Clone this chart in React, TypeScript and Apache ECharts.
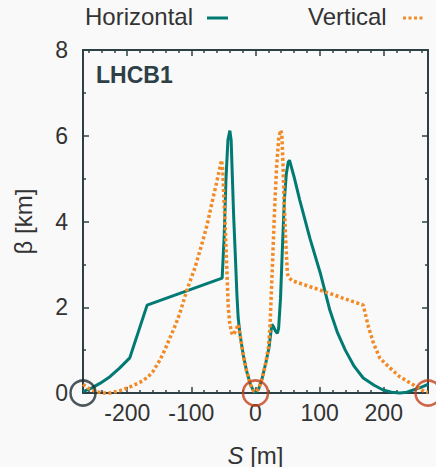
import React, { useEffect, useRef } from "react";
import * as echarts from "echarts";

// Horizontal beta function (solid teal)
const horizontalS = [
  -269, -255, -242, -227, -212, -196, -169, -52, -49, -46, -43, -40, -38, -36, -34, -32, -29, -27, -24, -19, -14, -8, -3, 0,
  5, 10, 16, 21, 23, 25.5, 28, 31, 34, 36, 39, 42, 45, 48, 51, 53, 60, 69, 85, 101, 116, 128, 140, 154, 168, 185, 199, 212, 225, 236, 246, 258, 269,
];
const horizontalBeta = [
  0.03, 0.12, 0.23, 0.38, 0.58, 0.82, 2.05, 2.68, 3.6, 5.0, 5.9, 6.12, 5.9, 5.0, 4.1, 3.4, 2.3, 1.75, 1.35, 0.88, 0.52, 0.2, 0.05, 0.02,
  0.1, 0.32, 0.7, 1.05, 1.3, 1.6, 1.55, 1.45, 1.39, 1.5, 2.2, 3.4, 4.5, 5.1, 5.38, 5.43, 5.05, 4.5, 3.6, 2.8, 1.93, 1.4, 1.0, 0.62, 0.35, 0.18, 0.07, 0.02, 0.0, 0.02, 0.07, 0.13, 0.2,
];

// Vertical beta function (dotted orange)
const verticalS = [
  -269, -260, -248, -237, -227, -212, -196, -180, -168, -160, -149, -141, -133, -125, -118, -107, -94, -82, -75, -68, -60, -53,
  -51, -49.5, -47.5, -45, -42.5, -40, -37, -34.6, -31, -27, -24, -19, -14, -8, -3, 0,
  5, 10, 16, 20, 22.6, 25, 28, 30.4, 33, 36, 39, 41, 43, 44.5, 47, 49.7, 51, 57, 69, 101, 135, 168, 176, 184, 194, 210, 225, 246, 264, 269,
];
const verticalBeta = [
  0.2, 0.1, 0.03, 0.0, 0.0, 0.05, 0.14, 0.25, 0.37, 0.5, 0.77, 1.02, 1.3, 1.58, 1.86, 2.4, 2.94, 3.56, 3.95, 4.43, 4.95, 5.43,
  5.2, 4.6, 4.0, 3.0, 2.0, 1.6, 1.4, 1.35, 1.45, 1.6, 1.35, 0.88, 0.52, 0.2, 0.05, 0.02,
  0.1, 0.32, 0.7, 1.05, 1.55, 2.45, 3.6, 4.5, 5.3, 5.9, 6.13, 6.05, 5.3, 4.5, 3.6, 2.8, 2.71, 2.62, 2.56, 2.4, 2.22, 2.05, 1.55, 1.16, 0.81, 0.58, 0.38, 0.19, 0.03, 0.02,
];

// Marker circles on the S axis
const markerS = [-269, 0, 269];
const markerBeta = [0, 0, 0];
const markerColors = ["#1f2d33", "#c4411c", "#c4411c"];

// Axis ticks
const xMajorTicks = [-200, -100, 0, 100, 200];
const xMinorTicks = [-260, -240, -220, -180, -160, -140, -120, -80, -60, -40, -20, 20, 40, 60, 80, 120, 140, 160, 180, 220, 240, 260];
const yMajorTicks = [0, 2, 4, 6, 8];
const yMinorTicks = [1, 3, 5, 7];

const seriesNames = ["Horizontal", "Vertical"];
const panelLabel = "LHCB1";

export default function App() {
  const ref = useRef<HTMLDivElement>(null);

  useEffect(() => {
    if (!ref.current) return;
    const chart = echarts.init(ref.current, null, { renderer: "svg" });
    const axisColor = "#2d4046";
    const textColor = "#333333";
    const font = "'Liberation Sans', Arial, Helvetica, sans-serif";
    const teal = "#007a73";
    const orange = "#f28a26";

    const xBase = { type: "value", min: -269, max: 269, gridIndex: 0, splitLine: { show: false } };
    const yBase = { type: "value", min: 0, max: 8, gridIndex: 0, splitLine: { show: false } };

    const tickStyle = { color: axisColor, width: 1.5 };

    const xAxes = [
      {
        ...xBase,
        position: "bottom",
        axisLine: { show: true, onZero: false, lineStyle: { color: axisColor, width: 2 } },
        axisTick: { show: true, inside: true, length: 6, customValues: xMajorTicks, lineStyle: tickStyle },
        axisLabel: { show: true, customValues: xMajorTicks, fontSize: 23, color: textColor, fontFamily: font, margin: 8 },
        name: "{i|S} [m]",
        nameLocation: "middle",
        nameGap: 50,
        nameTextStyle: {
          fontSize: 24,
          color: textColor,
          fontFamily: font,
          rich: { i: { fontStyle: "italic", fontSize: 24, color: textColor, fontFamily: font } },
        },
      },
      {
        ...xBase,
        position: "bottom",
        axisLine: { show: false, onZero: false },
        axisTick: { show: true, inside: true, length: 3, customValues: xMinorTicks, lineStyle: tickStyle },
        axisLabel: { show: false },
      },
      {
        ...xBase,
        position: "top",
        axisLine: { show: true, onZero: false, lineStyle: { color: axisColor, width: 2 } },
        axisTick: { show: true, inside: true, length: 6, customValues: xMajorTicks, lineStyle: tickStyle },
        axisLabel: { show: false },
      },
      {
        ...xBase,
        position: "top",
        axisLine: { show: false, onZero: false },
        axisTick: { show: true, inside: true, length: 3, customValues: xMinorTicks, lineStyle: tickStyle },
        axisLabel: { show: false },
      },
    ];

    const yAxes = [
      {
        ...yBase,
        position: "left",
        axisLine: { show: true, onZero: false, lineStyle: { color: axisColor, width: 2 } },
        axisTick: { show: true, inside: true, length: 6, customValues: yMajorTicks, lineStyle: tickStyle },
        axisLabel: { show: true, customValues: yMajorTicks, fontSize: 23, color: textColor, fontFamily: font, margin: 15 },
        name: "\u03b2 [km]",
        nameLocation: "middle",
        nameGap: 48,
        nameRotate: 90,
        nameTextStyle: { fontSize: 24, color: textColor, fontFamily: font },
      },
      {
        ...yBase,
        position: "left",
        axisLine: { show: false, onZero: false },
        axisTick: { show: true, inside: true, length: 3, customValues: yMinorTicks, lineStyle: tickStyle },
        axisLabel: { show: false },
      },
      {
        ...yBase,
        position: "right",
        axisLine: { show: true, onZero: false, lineStyle: { color: axisColor, width: 2 } },
        axisTick: { show: true, inside: true, length: 6, customValues: yMajorTicks, lineStyle: tickStyle },
        axisLabel: { show: false },
      },
      {
        ...yBase,
        position: "right",
        axisLine: { show: false, onZero: false },
        axisTick: { show: true, inside: true, length: 3, customValues: yMinorTicks, lineStyle: tickStyle },
        axisLabel: { show: false },
      },
    ];

    const hData = horizontalS.map((s, i) => [s, horizontalBeta[i]]);
    const vData = verticalS.map((s, i) => [s, verticalBeta[i]]);
    const markerData = markerS.map((s, i) => ({
      value: [s, markerBeta[i]],
      itemStyle: { color: "rgba(0,0,0,0)", borderColor: markerColors[i], borderWidth: 2.5 },
    }));

    chart.setOption({
      animation: false,
      backgroundColor: "#f9f9f9",
      grid: { left: 83, right: 8, top: 50, bottom: 74, containLabel: false, outerBoundsMode: "none" },
      xAxis: xAxes,
      yAxis: yAxes,
      graphic: [
        {
          type: "text",
          left: 85,
          top: 4,
          style: { text: seriesNames[0], fontSize: 24, fill: textColor, fontFamily: font },
        },
        {
          type: "line",
          shape: { x1: 207, y1: 18, x2: 228, y2: 18 },
          style: { stroke: teal, lineWidth: 3 },
        },
        {
          type: "text",
          left: 308,
          top: 4,
          style: { text: seriesNames[1], fontSize: 24, fill: textColor, fontFamily: font },
        },
        {
          type: "line",
          shape: { x1: 403, y1: 18, x2: 424, y2: 18 },
          style: { stroke: orange, lineWidth: 3, lineDash: [3, 2.5] },
        },
        {
          type: "text",
          left: 96,
          top: 63,
          style: { text: panelLabel, fontSize: 23, fontWeight: "bold", fill: axisColor, fontFamily: font },
        },
      ],
      series: [
        {
          name: seriesNames[0],
          type: "line",
          xAxisIndex: 0,
          yAxisIndex: 0,
          data: hData,
          showSymbol: false,
          symbol: "none",
          clip: false,
          lineStyle: { color: teal, width: 3 },
          itemStyle: { color: teal },
        },
        {
          name: seriesNames[1],
          type: "line",
          xAxisIndex: 0,
          yAxisIndex: 0,
          data: vData,
          showSymbol: false,
          symbol: "none",
          clip: false,
          lineStyle: { color: orange, width: 3.5, type: [3, 2.5] },
          itemStyle: { color: orange },
        },
        {
          name: "markers",
          type: "scatter",
          xAxisIndex: 0,
          yAxisIndex: 0,
          data: markerData,
          symbol: "circle",
          symbolSize: 25,
          clip: false,
          z: 5,
        },
      ],
    });

    return () => chart.dispose();
  }, []);

  return <div ref={ref} style={{ position: "absolute", left: 0, top: 0, width: 436, height: 467 }} />;
}
